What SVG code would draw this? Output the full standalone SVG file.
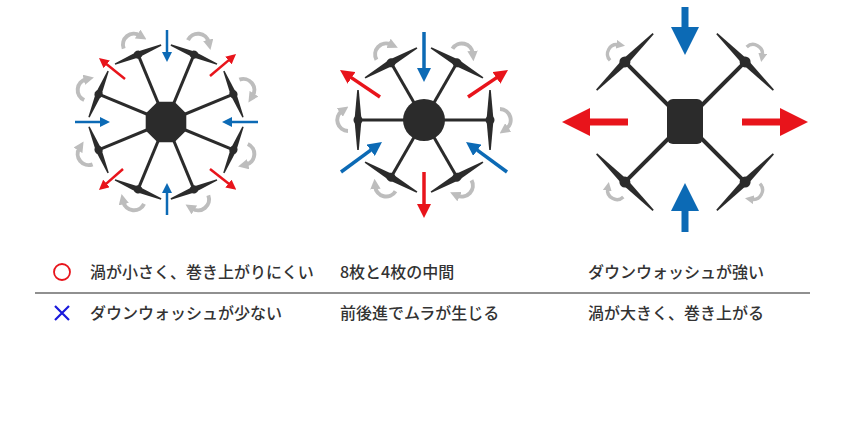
<svg xmlns="http://www.w3.org/2000/svg" xmlns:xlink="http://www.w3.org/1999/xlink" width="850" height="429" viewBox="0 0 850 429">
<style>
.arm{stroke:#2b2b2b;stroke-width:3;fill:none}
.body{fill:#2b2b2b}
.blade{fill:#2b2b2b}
.rot{stroke:#bdbdbd;stroke-width:4;fill:none;marker-end:url(#hg)}
.red{stroke:#e8141b;fill:none;marker-end:url(#hr)}
.blue{stroke:#0c6ab5;fill:none;marker-end:url(#hb)}
.t{font-family:"Noto Sans CJK JP","Noto Sans",sans-serif;font-size:16px;font-weight:500;fill:#333}
</style>
<defs>
<marker id="hr" viewBox="0 0 4 4" markerWidth="4" markerHeight="4" refX="1" refY="2" orient="auto"><path d="M0,0L4,2L0,4z" fill="#e8141b"/></marker>
<marker id="hb" viewBox="0 0 4 4" markerWidth="4" markerHeight="4" refX="1" refY="2" orient="auto"><path d="M0,0L4,2L0,4z" fill="#0c6ab5"/></marker>
<marker id="hg" viewBox="0 0 4 4" markerWidth="2.6" markerHeight="2.6" refX="1" refY="2" orient="auto"><path d="M0,0L4,2L0,4z" fill="#bdbdbd"/></marker>
<g id="rot"><path class="rot" d="M-11,4A11 11 0 0 1 9,-2"/></g>
<path id="bl" class="blade" d="M0,-3L25,-0.7L25,0.7L0,3z"/>
<path id="bh" class="blade" d="M0,-3.5L30,-0.8L30,0.8L0,3.5z"/>
<path id="bq" class="blade" d="M0,-3.5L40,-0.8L40,0.8L0,3.5z"/>
<g id="m8"><line class="arm" x1="-73" y1="0" x2="0" y2="0"/><use href="#bl" transform="rotate(90)"/><use href="#bl" transform="rotate(-90)"/><circle r="4" class="body"/></g>
<g id="m6"><line class="arm" x1="-66" y1="0" x2="0" y2="0"/><use href="#bh" transform="rotate(90)"/><use href="#bh" transform="rotate(-90)"/><circle r="4.5" class="body"/></g>
<g id="m4"><line class="arm" style="stroke-width:4" x1="-85" y1="0" x2="0" y2="0"/><use href="#bq" transform="rotate(90)"/><use href="#bq" transform="rotate(-90)"/><circle r="5.5" class="body"/></g>
</defs>

<g id="octo">
<g transform="translate(166,122)">
<use href="#m8" transform="rotate(-112.5) translate(73,0)"/>
<use href="#m8" transform="rotate(-67.5) translate(73,0)"/>
<use href="#m8" transform="rotate(-22.5) translate(73,0)"/>
<use href="#m8" transform="rotate(22.5) translate(73,0)"/>
<use href="#m8" transform="rotate(67.5) translate(73,0)"/>
<use href="#m8" transform="rotate(112.5) translate(73,0)"/>
<use href="#m8" transform="rotate(157.5) translate(73,0)"/>
<use href="#m8" transform="rotate(-157.5) translate(73,0)"/>
<polygon class="body" points="20.3,8.4 8.4,20.3 -8.4,20.3 -20.3,8.4 -20.3,-8.4 -8.4,-20.3 8.4,-20.3 20.3,-8.4"/>
<use href="#rot" transform="rotate(-112.5) translate(88,0) rotate(90)"/>
<use href="#rot" transform="rotate(-67.5) translate(88,0) rotate(90)"/>
<use href="#rot" transform="rotate(-22.5) translate(88,0) rotate(90)"/>
<use href="#rot" transform="rotate(22.5) translate(88,0) rotate(90)"/>
<use href="#rot" transform="rotate(67.5) translate(88,0) rotate(90)"/>
<use href="#rot" transform="rotate(112.5) translate(88,0) rotate(90)"/>
<use href="#rot" transform="rotate(157.5) translate(88,0) rotate(90)"/>
<use href="#rot" transform="rotate(-157.5) translate(88,0) rotate(90)"/>
</g>
</g>

<g id="hexa">
<g transform="translate(424,120)">
<use href="#m6" transform="rotate(-120) translate(66,0)"/>
<use href="#m6" transform="rotate(-60) translate(66,0)"/>
<use href="#m6" transform="rotate(0) translate(66,0)"/>
<use href="#m6" transform="rotate(60) translate(66,0)"/>
<use href="#m6" transform="rotate(120) translate(66,0)"/>
<use href="#m6" transform="rotate(180) translate(66,0)"/>
<circle r="21" class="body"/>
<use href="#rot" transform="rotate(-120) translate(80,0) rotate(90)"/>
<use href="#rot" transform="rotate(-60) translate(80,0) rotate(90)"/>
<use href="#rot" transform="rotate(0) translate(80,0) rotate(90)"/>
<use href="#rot" transform="rotate(60) translate(80,0) rotate(90)"/>
<use href="#rot" transform="rotate(120) translate(80,0) rotate(90)"/>
<use href="#rot" transform="rotate(180) translate(80,0) rotate(90)"/>
</g>
</g>

<g id="quad">
<g transform="translate(685,122)">
<use href="#m4" transform="rotate(-135) translate(85,0)"/>
<use href="#m4" transform="rotate(-45) translate(85,0)"/>
<use href="#m4" transform="rotate(45) translate(85,0)"/>
<use href="#m4" transform="rotate(135) translate(85,0)"/>
<rect x="-18" y="-23" width="36" height="45" rx="6" class="body"/>
<use href="#rot" transform="rotate(-135) translate(100,0) rotate(90) scale(0.85)"/>
<use href="#rot" transform="rotate(-45) translate(100,0) rotate(90) scale(0.85)"/>
<use href="#rot" transform="rotate(45) translate(100,0) rotate(90) scale(0.85)"/>
<use href="#rot" transform="rotate(135) translate(100,0) rotate(90) scale(0.85)"/>
</g>
</g>

<g id="connectors">
<g stroke-width="2.5">
<line class="blue" x1="167" y1="30" x2="167" y2="54.5"/>
<line class="blue" x1="167" y1="215" x2="167" y2="190.5"/>
<line class="blue" x1="75" y1="122" x2="102.5" y2="122"/>
<line class="blue" x1="258" y1="122" x2="229.5" y2="122"/>
<line class="red" x1="125" y1="79" x2="104.8" y2="62.7"/>
<line class="red" x1="210" y1="76" x2="230.3" y2="58.9"/>
<line class="red" x1="123" y1="169" x2="104.6" y2="185.1"/>
<line class="red" x1="210" y1="169" x2="230.4" y2="185.1"/>
</g>
<g stroke-width="3.5">
<line class="blue" x1="424" y1="32" x2="424" y2="71.5"/>
<line class="red" x1="424" y1="172" x2="424" y2="207.5"/>
<line class="blue" x1="341" y1="172" x2="373.5" y2="148.2"/>
<line class="blue" x1="507" y1="172" x2="474.5" y2="148.2"/>
<line class="red" x1="380" y1="97" x2="348.7" y2="75.9"/>
<line class="red" x1="468" y1="97" x2="499.3" y2="75.9"/>
</g>
<g stroke-width="7">
<line class="blue" x1="685" y1="7" x2="685" y2="34"/>
<line class="blue" x1="685" y1="232" x2="685" y2="204"/>
<line class="red" x1="628" y1="122" x2="583" y2="122"/>
<line class="red" x1="742" y1="122" x2="787" y2="122"/>
</g>
</g>

<g id="legend">
<circle cx="62" cy="272" r="8" fill="none" stroke="#e8141b" stroke-width="1.8"/>
<path d="M55,306L69,320M69,306L55,320" stroke="#1a1adc" stroke-width="2.2"/>
<line x1="35" y1="293" x2="810" y2="293" stroke="#222" stroke-width="1.2"/>
<text class="t" x="90" y="278">渦が小さく、巻き上がりにくい</text>
<text class="t" x="340" y="278">8枚と4枚の中間</text>
<text class="t" x="588" y="278">ダウンウォッシュが強い</text>
<text class="t" x="90" y="319">ダウンウォッシュが少ない</text>
<text class="t" x="340" y="319">前後進でムラが生じる</text>
<text class="t" x="588" y="319">渦が大きく、巻き上がる</text>
</g>
</svg>
